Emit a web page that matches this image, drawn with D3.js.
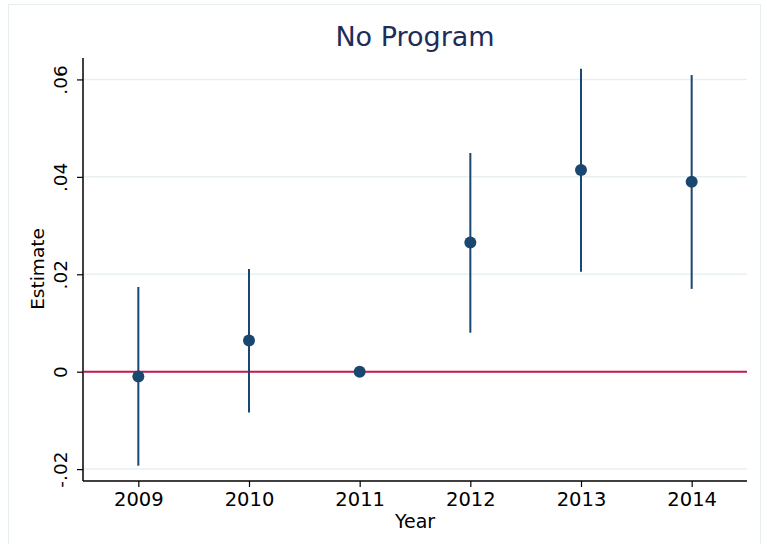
<!DOCTYPE html>
<html>
<script src="https://d3js.org/d3.v7.min.js"></script>
<body style="margin:0">
<svg width="767" height="544"></svg>
<script>
// event-study estimates with 95% CI
var years    = [2009, 2010, 2011, 2012, 2013, 2014],
    estimate = [-0.0010, 0.0064, 0.0000, 0.0265, 0.0414, 0.0390],
    ciLow    = [-0.0193, -0.0084, null, 0.0080, 0.0205, 0.0170],
    ciHigh   = [0.0174, 0.0211, null, 0.0449, 0.0622, 0.0609],
    yTicks   = [-0.02, 0, 0.02, 0.04, 0.06],
    yLabels  = ["-.02", "0", ".02", ".04", ".06"];

var svg  = d3.select("svg"),
    navy = "#1a476f",
    font = "DejaVu Sans";

var x = d3.scaleLinear().domain([2008.5, 2014.5]).range([83, 747]),
    y = d3.scaleLinear().domain([-0.02244, 0.0644]).range([481, 58]);

svg.append("rect").attr("width", 767).attr("height", 544).attr("fill", "#fff");
// faint outer frame of the graph region
svg.append("rect").attr("x", 8.5).attr("y", 4.5).attr("width", 752).attr("height", 560)
   .attr("fill", "none").attr("stroke", "#e6eef1");

// grid lines
svg.append("g").selectAll("line").data(yTicks).join("line")
   .attr("x1", 83).attr("x2", 747)
   .attr("y1", function(d) { return y(d); }).attr("y2", function(d) { return y(d); })
   .attr("stroke", "#e8f0f2").attr("stroke-width", 1.5);

// y axis
var yAxis = svg.append("g").attr("transform", "translate(83,0)")
   .call(d3.axisLeft(y).tickValues(yTicks).tickSize(6).tickPadding(14)
         .tickFormat(function(d, i) { return yLabels[i]; }));
yAxis.select(".domain").attr("d", "M0,58V481").attr("stroke", "#000").attr("stroke-width", 1.5);
yAxis.selectAll(".tick line").attr("stroke", "#000").attr("stroke-width", 1.2);
yAxis.selectAll(".tick text")
   .attr("font-family", font).attr("font-size", 18.5).attr("fill", "#000")
   .attr("text-anchor", "middle").attr("dy", null).attr("x", null)
   .attr("transform", "translate(-23,0) rotate(-90)")
   .attr("dominant-baseline", "central");

// x axis
var xAxis = svg.append("g").attr("transform", "translate(0,481)")
   .call(d3.axisBottom(x).tickValues(years).tickSize(6).tickPadding(5).tickFormat(d3.format("d")));
xAxis.select(".domain").attr("d", "M83,0H747").attr("stroke", "#000").attr("stroke-width", 1.5);
xAxis.selectAll(".tick line").attr("stroke", "#000").attr("stroke-width", 1.2);
xAxis.selectAll(".tick text").attr("font-family", font).attr("font-size", 19.5).attr("fill", "#000");

// reference line at zero
svg.append("line").attr("x1", 84).attr("x2", 747).attr("y1", y(0)).attr("y2", y(0))
   .attr("stroke", "#c8174a").attr("stroke-width", 2);

// confidence intervals
var rows = years.map(function(yr, i) {
  return {year: yr, est: estimate[i], lo: ciLow[i], hi: ciHigh[i]};
});
svg.append("g").selectAll("line").data(rows.filter(function(d) { return d.lo !== null; }))
   .join("line")
   .attr("x1", function(d) { return x(d.year); }).attr("x2", function(d) { return x(d.year); })
   .attr("y1", function(d) { return y(d.lo); }).attr("y2", function(d) { return y(d.hi); })
   .attr("stroke", navy).attr("stroke-width", 2);

// point estimates
svg.append("g").selectAll("circle").data(rows).join("circle")
   .attr("cx", function(d) { return x(d.year); }).attr("cy", function(d) { return y(d.est); })
   .attr("r", 6).attr("fill", navy);

// titles
svg.append("text").attr("x", 415).attr("y", 46).attr("text-anchor", "middle")
   .attr("font-family", font).attr("font-size", 27).attr("fill", "#1c2d5a").text("No Program");
svg.append("text").attr("x", 415).attr("y", 528).attr("text-anchor", "middle")
   .attr("font-family", font).attr("font-size", 19).attr("fill", "#000").text("Year");
svg.append("text").attr("transform", "translate(44,269) rotate(-90)").attr("text-anchor", "middle")
   .attr("font-family", font).attr("font-size", 18.5).attr("fill", "#000").text("Estimate");
</script>
</body>
</html>
